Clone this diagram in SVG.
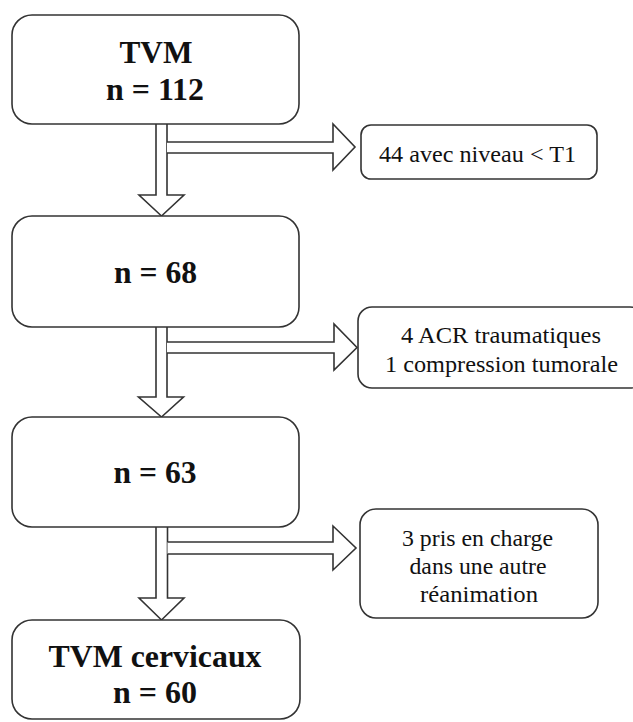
<svg xmlns="http://www.w3.org/2000/svg" width="633" height="722" viewBox="0 0 633 722">
<style>
.box{fill:#fff;stroke:#333;stroke-width:1.6}
.arr{fill:#fff;stroke:#333;stroke-width:1.6;stroke-linejoin:miter}
text{font-family:"Liberation Serif","Tinos","Times New Roman","DejaVu Serif","Noto Serif",serif;fill:#111;text-anchor:middle}
.big{font-weight:bold;font-size:31.5px}
.sm{font-size:24px}
</style>
<rect width="633" height="722" fill="#fff"/>
<g id="connectors">
<path class="arr" d="M156,124 V195 H139 L161.5,216 L184,195 H167 V124"/>
<path class="arr" d="M167,142 H333 V124 L355,147 L333,170 V153 H167"/>
<path class="arr" d="M156,327 V397 H138.5 L161.5,417 L183.5,397 H167 V327"/>
<path class="arr" d="M167,342 H334 V324 L357,347.5 L334,370 V353 H167"/>
<path class="arr" d="M156,527 V598 H139 L161.5,620 L184,598 H167.5 V527"/>
<path class="arr" d="M167.5,542 H333 V526 L356,548 L333,570 V554 H167.5"/>
</g>
<g id="n1">
<rect class="box" x="12" y="15" width="287" height="109" rx="20"/>
<text class="big" x="156" y="63" font-family="Liberation Serif, Tinos, DejaVu Serif, serif" textLength="73" lengthAdjust="spacingAndGlyphs">TVM</text>
<text class="big" x="155" y="100" font-family="Liberation Serif, Tinos, DejaVu Serif, serif" textLength="98" lengthAdjust="spacingAndGlyphs">n = 112</text>
</g>
<g id="e1">
<rect class="box" x="361" y="125" width="236" height="54" rx="10"/>
<text class="sm" x="477.5" y="162" font-family="Liberation Serif, Tinos, DejaVu Serif, serif" textLength="197" lengthAdjust="spacingAndGlyphs">44 avec niveau &lt; T1</text>
</g>
<g id="n2">
<rect class="box" x="12" y="216" width="287" height="111" rx="20"/>
<text class="big" x="155.5" y="283" font-family="Liberation Serif, Tinos, DejaVu Serif, serif" textLength="83" lengthAdjust="spacingAndGlyphs">n = 68</text>
</g>
<g id="e2">
<rect class="box" x="358" y="307" width="286" height="81" rx="14"/>
<text class="sm" x="501" y="343" font-family="Liberation Serif, Tinos, DejaVu Serif, serif" textLength="200" lengthAdjust="spacingAndGlyphs">4 ACR traumatiques</text>
<text class="sm" x="501.5" y="372" font-family="Liberation Serif, Tinos, DejaVu Serif, serif" textLength="233" lengthAdjust="spacingAndGlyphs">1 compression tumorale</text>
</g>
<g id="n3">
<rect class="box" x="12" y="417" width="287" height="110" rx="20"/>
<text class="big" x="155" y="483" font-family="Liberation Serif, Tinos, DejaVu Serif, serif" textLength="83" lengthAdjust="spacingAndGlyphs">n = 63</text>
</g>
<g id="e3">
<rect class="box" x="360" y="509" width="238" height="109" rx="16"/>
<text class="sm" x="477.5" y="546" font-family="Liberation Serif, Tinos, DejaVu Serif, serif" textLength="151" lengthAdjust="spacingAndGlyphs">3 pris en charge</text>
<text class="sm" x="478" y="574" font-family="Liberation Serif, Tinos, DejaVu Serif, serif" textLength="137" lengthAdjust="spacingAndGlyphs">dans une autre</text>
<text class="sm" x="479" y="602" font-family="Liberation Serif, Tinos, DejaVu Serif, serif" textLength="118" lengthAdjust="spacingAndGlyphs">réanimation</text>
</g>
<g id="n4">
<rect class="box" x="12" y="620" width="288" height="99" rx="20"/>
<text class="big" x="155" y="667" font-family="Liberation Serif, Tinos, DejaVu Serif, serif" textLength="213" lengthAdjust="spacingAndGlyphs">TVM cervicaux</text>
<text class="big" x="155" y="703" font-family="Liberation Serif, Tinos, DejaVu Serif, serif" textLength="84" lengthAdjust="spacingAndGlyphs">n = 60</text>
</g>
</svg>
